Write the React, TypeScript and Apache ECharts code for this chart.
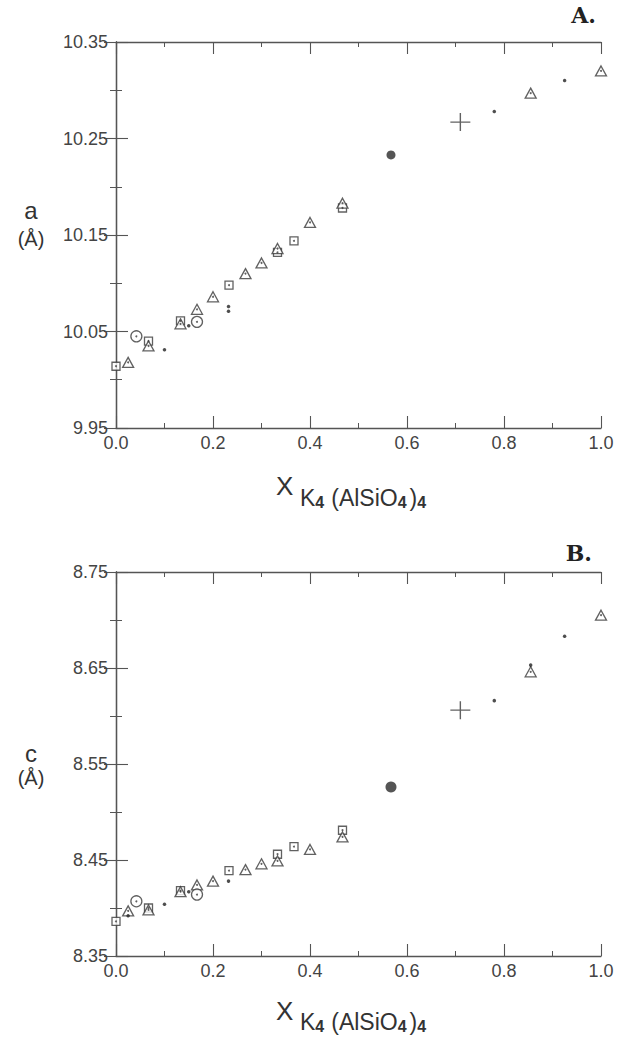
import React, { useEffect, useRef } from 'react';
import * as echarts from 'echarts';

// ---- axis tick labels ----
const xTickLabels = ['0.0', '0.2', '0.4', '0.6', '0.8', '1.0'];
const aTickLabels = ['9.95', '10.05', '10.15', '10.25', '10.35'];
const cTickLabels = ['8.35', '8.45', '8.55', '8.65', '8.75'];

// ---- panel A: a (Å) ----
const squaresA = [[0.0, 10.014], [0.067, 10.040], [0.133, 10.061], [0.233, 10.098], [0.333, 10.132], [0.367, 10.144], [0.467, 10.178]];
const trianglesA = [[0.025, 10.018], [0.067, 10.035], [0.133, 10.058], [0.167, 10.073], [0.2, 10.086], [0.267, 10.110], [0.3, 10.121], [0.333, 10.136], [0.4, 10.163], [0.467, 10.183], [0.855, 10.297], [1.0, 10.32]];
const circlesA = [[0.042, 10.045], [0.167, 10.060]];
const dotsA = [[0.1, 10.031], [0.15, 10.056], [0.232, 10.071], [0.232, 10.076], [0.78, 10.278], [0.925, 10.31]];
const filledA = [[0.567, 10.233]];
const crossA = [[0.71, 10.267]];

// ---- panel B: c (Å) ----
const squaresC = [[0.0, 8.386], [0.067, 8.400], [0.133, 8.418], [0.233, 8.439], [0.333, 8.456], [0.367, 8.464], [0.467, 8.481]];
const trianglesC = [[0.025, 8.397], [0.067, 8.398], [0.133, 8.417], [0.167, 8.424], [0.2, 8.428], [0.267, 8.440], [0.3, 8.446], [0.333, 8.449], [0.4, 8.461], [0.467, 8.474], [0.855, 8.646], [1.0, 8.705]];
const circlesC = [[0.042, 8.407], [0.167, 8.414]];
const dotsC = [[0.025, 8.392], [0.1, 8.404], [0.15, 8.417], [0.232, 8.428], [0.78, 8.616], [0.855, 8.653], [0.925, 8.683]];
const filledC = [[0.567, 8.526]];
const crossC = [[0.71, 8.606]];

const INK = '#3a3a3a';
const AXIS = '#555';
const FONT = 'Liberation Sans, Arial, sans-serif';
const CROSS = 'path://M9.3,0h1.4v9.3h9.3v1.4h-9.3v9.3h-1.4v-9.3h-9.3v-1.4h9.3z';

function xAxes(grid: number) {
  const base: any = {
    type: 'value', gridIndex: grid, min: 0, max: 1, interval: 0.2,
    axisLine: { show: true, lineStyle: { color: AXIS, width: 1.3 } },
    axisTick: { show: true, inside: true, length: 12, lineStyle: { color: AXIS, width: 1.1 } },
    minorTick: { show: true, splitNumber: 2, length: 5, lineStyle: { color: AXIS, width: 1 } },
    splitLine: { show: false }, minorSplitLine: { show: false },
  };
  return [
    { ...base, position: 'bottom', axisLabel: { show: true, margin: 6, fontSize: 18, color: '#444', fontFamily: FONT, formatter: (v: number) => xTickLabels[Math.round(v / 0.2)] ?? '' } },
    { ...base, position: 'top', axisLabel: { show: false } },
  ];
}

function yAxes(grid: number, min: number, max: number, labels: string[]) {
  const base: any = {
    type: 'value', gridIndex: grid, min, max, interval: 0.1,
    axisLine: { show: true, lineStyle: { color: AXIS, width: 1.3 } },
    axisTick: { show: true, inside: true, length: 12, lineStyle: { color: AXIS, width: 1.1 } },
    minorTick: { show: true, splitNumber: 2, length: 6, lineStyle: { color: AXIS, width: 1 } },
    splitLine: { show: false }, minorSplitLine: { show: false },
  };
  return [
    { ...base, position: 'left', axisLabel: { show: true, margin: 8, fontSize: 18, color: '#444', fontFamily: FONT, formatter: (v: number) => labels[Math.round((v - min) / 0.1)] ?? '' } },
    { ...base, position: 'right', axisLabel: { show: false } },
  ];
}

function panelSeries(grid: number, sq: number[][], tr: number[][], ci: number[][], dots: number[][], filled: number[][], cross: number[][], filledSize: number) {
  const ax = { xAxisIndex: grid * 2, yAxisIndex: grid * 2 };
  const open = { color: '#fff', borderColor: INK, borderWidth: 1.3 };
  return [
    { type: 'scatter', ...ax, data: sq, symbol: 'rect', symbolSize: 8, itemStyle: open, z: 2 },
    { type: 'scatter', ...ax, data: tr, symbol: 'triangle', symbolSize: [11, 10], itemStyle: open, z: 3 },
    { type: 'scatter', ...ax, data: ci, symbol: 'circle', symbolSize: 11, itemStyle: open, z: 3 },
    { type: 'scatter', ...ax, data: [...sq, ...tr, ...ci], symbol: 'circle', symbolSize: 2, itemStyle: { color: INK }, z: 4 },
    { type: 'scatter', ...ax, data: dots, symbol: 'circle', symbolSize: 3.5, itemStyle: { color: '#222' }, z: 5 },
    { type: 'scatter', ...ax, data: filled, symbol: 'circle', symbolSize: filledSize, itemStyle: { color: '#2a2a2a' }, z: 5 },
    { type: 'scatter', ...ax, data: cross, symbol: CROSS, symbolSize: [20, 18], itemStyle: { color: INK }, z: 5 },
  ];
}

function xTitle(xTop: number, subTop: number) {
  return [
    { type: 'text', left: 276, top: xTop, style: { text: 'X', fontSize: 26, fontFamily: FONT, fill: '#333' } },
    {
      type: 'text', left: 300, top: subTop,
      style: {
        text: '{m|K}{s|4}{p|(AlSiO}{s|4}{m|)}{s|4}',
        fill: '#333', fontFamily: FONT,
        rich: {
          m: { fontSize: 23, lineHeight: 23, fontFamily: FONT, fill: '#333' },
          p: { fontSize: 23, lineHeight: 23, fontFamily: FONT, fill: '#333', padding: [0, 0, 0, 4] },
          s: { fontSize: 16, fontWeight: 'bold', lineHeight: 16, padding: [9, 3, 0, 0], fontFamily: FONT, fill: '#333' },
        },
      },
    },
  ];
}

function ylab(text: string, y: number, size: number) {
  return { type: 'text', x: 31, y, style: { text, fontSize: size, fontFamily: FONT, fill: '#333', align: 'center', verticalAlign: 'middle', textAlign: 'center', textVerticalAlign: 'middle' } };
}

export default function App() {
  const ref = useRef<HTMLDivElement>(null);
  useEffect(() => {
    if (!ref.current) return;
    const chart = echarts.init(ref.current, undefined, { renderer: 'svg' });
    chart.setOption({
      animation: false,
      backgroundColor: '#fff',
      grid: [
        { left: 116, top: 42, width: 485, height: 386 },
        { left: 116, top: 572, width: 485, height: 384 },
      ],
      xAxis: [...xAxes(0), ...xAxes(1)],
      yAxis: [...yAxes(0, 9.95, 10.35, aTickLabels), ...yAxes(1, 8.35, 8.75, cTickLabels)],
      series: [
        ...panelSeries(0, squaresA, trianglesA, circlesA, dotsA, filledA, crossA, 9),
        ...panelSeries(1, squaresC, trianglesC, circlesC, dotsC, filledC, crossC, 11),
      ],
      graphic: [
        { type: 'text', right: 22, top: 4, style: { text: 'A.', fontSize: 22, fontWeight: 'bold', fontFamily: 'DejaVu Serif, serif', fill: '#222' } },
        { type: 'text', right: 26, top: 542, style: { text: 'B.', fontSize: 22, fontWeight: 'bold', fontFamily: 'DejaVu Serif, serif', fill: '#222' } },
        ylab('a', 210, 24),
        ylab('(Å)', 239, 20),
        ylab('c', 753, 24),
        ylab('(Å)', 778, 20),
        ...xTitle(473, 485),
        ...xTitle(998, 1009),
      ],
    });
    return () => chart.dispose();
  }, []);
  return <div ref={ref} style={{ position: 'absolute', left: 0, top: 0, width: 618, height: 1038, background: '#fff' }} />;
}
